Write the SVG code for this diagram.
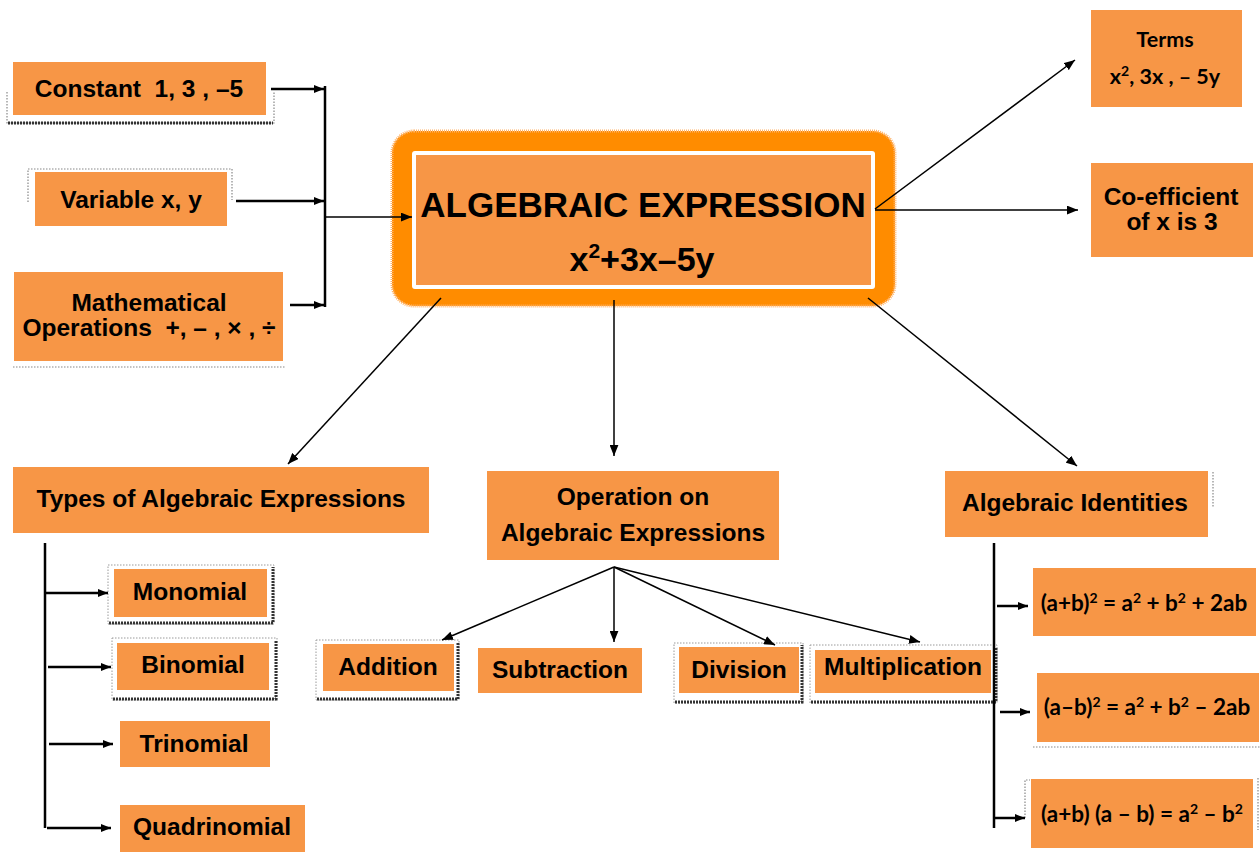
<svg xmlns="http://www.w3.org/2000/svg" width="1260" height="855" viewBox="0 0 1260 855">
<style>
.box{fill:#F79646}
.t{font-family:"Liberation Sans",Arial,sans-serif;font-weight:bold;font-size:24.5px;fill:#000;text-anchor:middle}
.c{font-family:Lato,"Open Sans",sans-serif;font-weight:bold;font-size:22.5px;fill:#000;text-anchor:middle}
.sh{fill:#fff;stroke:#9a9a9a;stroke-width:1;stroke-dasharray:1.5 1.5}
.shb{fill:none;stroke:#333;stroke-width:3;stroke-dasharray:2 1}
.dot{fill:none;stroke:#888;stroke-width:1.2;stroke-dasharray:1.5 1.5}
.thick{stroke:#000;stroke-width:2.5;fill:none}
.thin{stroke:#000;stroke-width:1.5;fill:none}
</style>
<defs>
<marker id="ah" viewBox="0 0 10 8" refX="10" refY="4" markerWidth="10" markerHeight="8" markerUnits="userSpaceOnUse" orient="auto">
<path d="M0,0 L10,4 L0,8 z" fill="#000"/>
</marker>
<marker id="ahs" viewBox="0 0 10 8" refX="10" refY="4" markerWidth="11" markerHeight="9" markerUnits="userSpaceOnUse" orient="auto">
<path d="M0,0 L10,4 L0,8 z" fill="#000"/>
</marker>
</defs>
<rect width="1260" height="855" fill="#fff"/>

<g id="constant">
<path class="dot" d="M7,92 V123 H274 V92"/>
<path class="shb" d="M8,123 H273"/>
<rect class="box" x="13" y="62" width="253" height="53"/>
<text class="t" x="139" y="97">Constant&#160; 1, 3 , –5</text>
</g>

<g id="variable">
<path class="dot" d="M28,202 V169 H232 V200"/>
<rect class="box" x="35" y="172" width="192" height="54"/>
<text class="t" x="131" y="208">Variable x, y</text>
</g>

<g id="operations-math">
<path class="dot" d="M13,367 H285"/>
<rect class="box" x="14" y="272" width="269" height="89"/>
<text class="t" x="149" y="311">Mathematical</text>
<text class="t" x="149" y="336">Operations&#160; +, – , × , ÷</text>
</g>

<g id="main">
<rect x="392" y="131" width="503" height="175" rx="22" fill="#FF8C00" stroke="#FFB46A" stroke-width="3" stroke-dasharray="1 1"/>
<rect x="412" y="151" width="463" height="138" rx="3" fill="#fff"/>
<rect class="box" x="416" y="155" width="455" height="130"/>
<text class="t" x="643" y="217" style="font-size:35px">ALGEBRAIC EXPRESSION</text>
<text class="t" x="642" y="271" style="font-size:34px">x<tspan dy="-13" style="font-size:21px">2</tspan><tspan dy="13">+3x–5y</tspan></text>
</g>

<g id="terms">
<rect class="box" x="1091" y="10" width="151" height="97"/>
<text class="c" x="1165" y="47" style="font-size:21.5px">Terms</text>
<text class="c" x="1165" y="84" style="font-size:21.5px">x<tspan dy="-8" style="font-size:14px">2</tspan><tspan dy="8">, 3x , – 5y</tspan></text>
</g>

<g id="coefficient">
<rect class="box" x="1091" y="163" width="162" height="94"/>
<text class="t" x="1171" y="205">Co-efficient</text>
<text class="t" x="1172" y="230">of x is 3</text>
</g>

<g id="types">
<rect class="box" x="13" y="467" width="416" height="66"/>
<text class="t" x="221" y="507">Types of Algebraic Expressions</text>
</g>

<g id="operation">
<rect class="box" x="487" y="471" width="292" height="89"/>
<text class="t" x="633" y="505">Operation on</text>
<text class="t" x="633" y="541">Algebraic Expressions</text>
</g>

<g id="identities">
<path class="dot" d="M1213,472 V508"/>
<rect class="box" x="945" y="471" width="263" height="66"/>
<text class="t" x="1075" y="511">Algebraic Identities</text>
</g>

<g id="monomial">
<rect class="sh" x="108" y="565" width="166" height="59"/>
<path class="shb" d="M109,623 H273 V567"/>
<rect class="box" x="114" y="569" width="153" height="48"/>
<text class="t" x="190" y="600">Monomial</text>
</g>

<g id="binomial">
<rect class="sh" x="112" y="638" width="165" height="62"/>
<path class="shb" d="M113,699 H276 V640"/>
<rect class="box" x="117" y="643" width="152" height="47"/>
<text class="t" x="193" y="673">Binomial</text>
</g>

<g id="trinomial">
<rect class="box" x="120" y="721" width="150" height="46"/>
<text class="t" x="194" y="752">Trinomial</text>
</g>

<g id="quadrinomial">
<rect class="box" x="120" y="805" width="185" height="47"/>
<text class="t" x="212" y="835">Quadrinomial</text>
</g>

<g id="addition">
<rect class="sh" x="316" y="640" width="143" height="60"/>
<path class="shb" d="M317,699 H458 V642"/>
<rect class="box" x="323" y="644" width="131" height="47"/>
<text class="t" x="388" y="675">Addition</text>
</g>

<g id="subtraction">
<rect class="box" x="478" y="648" width="164" height="45"/>
<text class="t" x="560" y="678">Subtraction</text>
</g>

<g id="division">
<rect class="sh" x="674" y="643" width="129" height="60"/>
<path class="shb" d="M675,702 H802 V645"/>
<rect class="box" x="679" y="647" width="120" height="46"/>
<text class="t" x="739" y="678">Division</text>
</g>

<g id="multiplication">
<rect class="sh" x="810" y="645" width="187" height="58"/>
<path class="shb" d="M811,702 H996 V647"/>
<rect class="box" x="815" y="650" width="176" height="43"/>
<text class="t" x="903" y="675">Multiplication</text>
</g>

<g id="identity1">
<rect class="box" x="1033" y="568" width="223" height="68"/>
<text class="c" x="1144" y="611">(a+b)<tspan dy="-8" style="font-size:14px">2</tspan><tspan dy="8"> = a</tspan><tspan dy="-8" style="font-size:14px">2</tspan><tspan dy="8"> + b</tspan><tspan dy="-8" style="font-size:14px">2</tspan><tspan dy="8"> + 2ab</tspan></text>
</g>

<g id="identity2">
<path class="dot" d="M1033,747 H1260"/>
<rect class="box" x="1037" y="673" width="222" height="69"/>
<text class="c" x="1147" y="715">(a–b)<tspan dy="-8" style="font-size:14px">2</tspan><tspan dy="8"> = a</tspan><tspan dy="-8" style="font-size:14px">2</tspan><tspan dy="8"> + b</tspan><tspan dy="-8" style="font-size:14px">2</tspan><tspan dy="8"> – 2ab</tspan></text>
</g>

<g id="identity3">
<path class="dot" d="M1025,818 V780 H1030"/>
<path class="dot" d="M1258,778 V830"/>
<rect class="box" x="1031" y="779" width="222" height="69"/>
<text class="c" x="1142" y="822">(a+b) (a – b) = a<tspan dy="-8" style="font-size:14px">2</tspan><tspan dy="8"> – b</tspan><tspan dy="-8" style="font-size:14px">2</tspan></text>
</g>

<g id="connectors">
<line class="thick" x1="271" y1="89" x2="324" y2="89" marker-end="url(#ah)"/>
<line class="thick" x1="236" y1="201" x2="324" y2="201" marker-end="url(#ah)"/>
<line class="thick" x1="290" y1="305" x2="324" y2="305" marker-end="url(#ah)"/>
<line class="thick" x1="325" y1="86" x2="325" y2="307"/>
<line class="thin" x1="325" y1="217" x2="412" y2="217" marker-end="url(#ahs)"/>
<line class="thin" x1="875" y1="209" x2="1075" y2="60" marker-end="url(#ahs)"/>
<line class="thin" x1="875" y1="210" x2="1078" y2="210" marker-end="url(#ahs)"/>
<line class="thin" x1="441" y1="298" x2="288" y2="464" marker-end="url(#ahs)"/>
<line class="thin" x1="614" y1="300" x2="614" y2="456" marker-end="url(#ahs)"/>
<line class="thin" x1="868" y1="298" x2="1077" y2="466" marker-end="url(#ahs)"/>
<line class="thin" x1="614" y1="567" x2="442" y2="640" marker-end="url(#ahs)"/>
<line class="thin" x1="614" y1="567" x2="614" y2="642" marker-end="url(#ahs)"/>
<line class="thin" x1="614" y1="567" x2="775" y2="645" marker-end="url(#ahs)"/>
<line class="thin" x1="614" y1="567" x2="920" y2="642" marker-end="url(#ahs)"/>
<line class="thick" x1="45" y1="543" x2="45" y2="828"/>
<line class="thick" x1="45" y1="593" x2="108" y2="593" marker-end="url(#ah)"/>
<line class="thick" x1="48" y1="667" x2="111" y2="667" marker-end="url(#ah)"/>
<line class="thick" x1="49" y1="744" x2="113" y2="744" marker-end="url(#ah)"/>
<line class="thick" x1="47" y1="828" x2="111" y2="828" marker-end="url(#ah)"/>
<line class="thick" x1="994" y1="543" x2="994" y2="828"/>
<line class="thick" x1="997" y1="606" x2="1028" y2="606" marker-end="url(#ah)"/>
<line class="thick" x1="1000" y1="712" x2="1030" y2="712" marker-end="url(#ah)"/>
<line class="thick" x1="994" y1="818" x2="1025" y2="818" marker-end="url(#ah)"/>
</g>
</svg>
